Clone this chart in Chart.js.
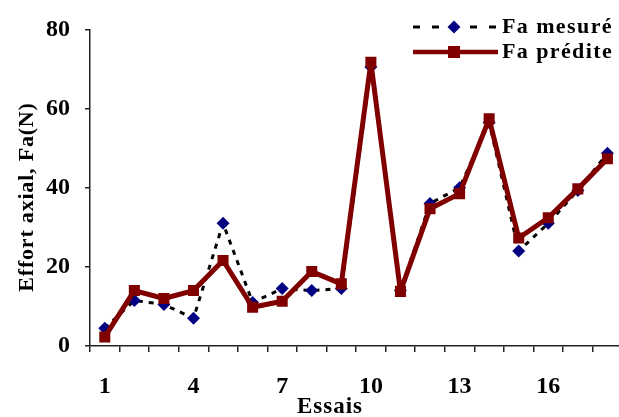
<!DOCTYPE html>
<html>
<head>
<meta charset="utf-8">
<script src="https://cdn.jsdelivr.net/npm/chart.js@4/dist/chart.umd.min.js"></script>
<style>
html,body{margin:0;padding:0;background:#fff;overflow:hidden;}
#wrap{position:relative;width:630px;height:417px;}
</style>
</head>
<body>
<div id="wrap"><canvas id="c"></canvas></div>
<script>
const categories = ['1','2','3','4','5','6','7','8','9','10','11','12','13','14','15','16','17','18'];
const faMesure = [4.5, 11.5, 10.5, 7, 31, 11, 14.5, 14, 14.5, 70.5, 14, 36, 40, 56.5, 24, 31, 39.3, 48.7];
const faPredite = [2.3, 14, 12, 14, 21.6, 9.8, 11.3, 18.8, 15.7, 71.7, 13.8, 34.7, 38.5, 57.4, 27.3, 32.4, 39.7, 47.3];
const shownTicks = ['1','4','7','10','13','16'];
const yTicks = [0, 20, 40, 60, 80];
const seriesNames = ['Fa mesuré', 'Fa prédite'];
const xTitle = 'Essais';
const yTitle = 'Effort axial, Fa(N)';

const RED = '#800000', NAVY = '#000080';
const FONT = '"Liberation Serif", "Times New Roman", serif';

const textPlugin = {
  id: 'customText',
  afterDraw(chart) {
    const ctx = chart.ctx;
    ctx.save();
    let y = 27;
    ctx.strokeStyle = '#000'; ctx.lineWidth = 3; ctx.setLineDash([7, 12]);
    ctx.beginPath(); ctx.moveTo(413, y); ctx.lineTo(498, y); ctx.stroke();
    ctx.setLineDash([]);
    ctx.fillStyle = NAVY;
    Chart.helpers.drawPoint(ctx, {pointStyle: 'rectRot', radius: 6.5, borderWidth: 0}, 454, y);
    y = 52;
    ctx.strokeStyle = RED; ctx.lineWidth = 4.5;
    ctx.beginPath(); ctx.moveTo(413, y); ctx.lineTo(498, y); ctx.stroke();
    ctx.fillStyle = RED;
    ctx.fillRect(448, y - 6, 12, 12);
    ctx.fillStyle = '#000';
    ctx.textBaseline = 'middle';
    ctx.textAlign = 'left';
    ctx.font = 'bold 22px ' + FONT;
    if ('letterSpacing' in ctx) ctx.letterSpacing = '1.4px';
    ctx.fillText(seriesNames[0], 502, 27);
    ctx.fillText(seriesNames[1], 502, 52);
    ctx.textAlign = 'center';
    ctx.textBaseline = 'alphabetic';
    ctx.font = 'bold 23px ' + FONT;
    if ('letterSpacing' in ctx) ctx.letterSpacing = '1px';
    ctx.fillText(xTitle, 330, 413);
    ctx.translate(33, 197);
    ctx.rotate(-Math.PI / 2);
    ctx.font = 'bold 22px ' + FONT;
    if ('letterSpacing' in ctx) ctx.letterSpacing = '0.8px';
    ctx.fillText(yTitle, 0, 0);
    ctx.restore();
  }
};

new Chart(document.getElementById('c'), {
  type: 'line',
  data: {
    labels: categories,
    datasets: [
      {
        label: seriesNames[0], data: faMesure, order: 1,
        borderColor: '#000', borderWidth: 3, borderDash: [5, 6],
        pointStyle: 'rectRot', pointRadius: 6.5, pointBackgroundColor: NAVY,
        pointBorderColor: NAVY, pointBorderWidth: 0, tension: 0, fill: false
      },
      {
        label: seriesNames[1], data: faPredite, order: 0,
        borderColor: RED, borderWidth: 5, borderJoinStyle: 'round',
        pointStyle: 'rect', pointRadius: 7.8, pointBackgroundColor: RED,
        pointBorderColor: RED, pointBorderWidth: 0, tension: 0, fill: false
      }
    ]
  },
  options: {
    responsive: true, maintainAspectRatio: false, animation: false,
    devicePixelRatio: 1,
    layout: {padding: {top: 29, left: 0, right: 3, bottom: 0}},
    plugins: {legend: {display: false}, tooltip: {enabled: false}},
    scales: {
      x: {
        type: 'category', offset: true,
        grid: {display: true, drawOnChartArea: false, drawTicks: true, tickLength: 6, color: '#222', tickColor: '#222', lineWidth: 1.5, tickWidth: 1.5, offset: true, z: 1},
        border: {display: true, color: '#222', width: 1.5, z: 1},
        ticks: {
          autoSkip: false, maxRotation: 0, padding: 20, color: '#000',
          font: {family: FONT, size: 24, weight: 'bold'},
          callback: function(v, i) { const l = categories[i]; return shownTicks.includes(l) ? l : ''; }
        },
        afterFit: s => { s.height = 71; }
      },
      y: {
        min: 0, max: 80,
        afterBuildTicks: s => { s.ticks = yTicks.map(v => ({value: v})); },
        grid: {display: true, drawOnChartArea: false, drawTicks: true, tickLength: 5, color: '#222', tickColor: '#222', lineWidth: 1.5, tickWidth: 1.5, z: 1},
        border: {display: true, color: '#222', width: 1.5, z: 1},
        ticks: {padding: 15, color: '#000', font: {family: FONT, size: 24, weight: 'bold'}},
        afterFit: s => { s.width = 90; }
      }
    }
  },
  plugins: [textPlugin]
});
</script>
</body>
</html>
